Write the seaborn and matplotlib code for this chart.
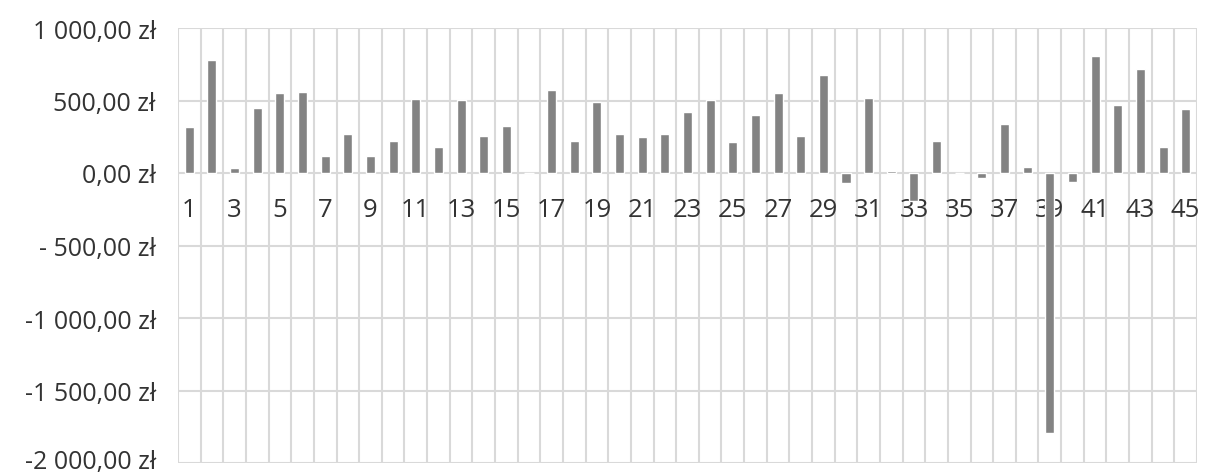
import numpy as np
import pandas as pd
import matplotlib
matplotlib.use('Agg')
import matplotlib.pyplot as plt
import matplotlib.transforms as mtransforms
import seaborn as sns

# dane
okresy = [str(i) for i in range(1, 46)]
wartosci = [315, 777, 34, 450, 554, 561, 120, 269, 120, 218,
            513, 182, 503, 258, 322, 0, 575, 221, 490, 269,
            251, 269, 423, 501, 214, 400, 554, 255, 676, -67,
            515, 16, -190, 223, 0, -32, 340, 39, -1793, -60,
            809, 467, 720, 179, 444]
y_ticks = [1000, 500, 0, -500, -1000, -1500, -2000]
y_labels = ['1 000,00 zł', '500,00 zł', '0,00 zł', '- 500,00 zł',
            '-1 000,00 zł', '-1 500,00 zł', '-2 000,00 zł']

df = pd.DataFrame({'okres': okresy, 'wartosc': wartosci})

sns.set_style('white')
plt.rcParams['font.family'] = ['Open Sans', 'DejaVu Sans']

fig = plt.figure(figsize=(12.09, 4.77), dpi=100)
ax = fig.add_axes([178 / 1209, 13 / 477, (1197 - 178) / 1209, (464 - 29) / 477])

sns.barplot(data=df, x='okres', y='wartosc', color='#838383', saturation=1,
            width=0.4, ax=ax, zorder=3)

ax.set_xlim(-0.5, len(okresy) - 0.5)
ax.set_ylim(-2000, 1000)

# siatka rysowana pod etykietami osi (etykiety nad siatką, słupki nad etykietami)
grid_col = '#d9d9d9'
for yv in y_ticks:
    ax.axhline(yv, color=grid_col, linewidth=1.5, zorder=0.1)
for xv in np.arange(-0.5, len(okresy)):
    ax.axvline(xv, color=grid_col, linewidth=1.5, zorder=0.1)
ax.set_axisbelow(True)

ax.set_yticks(y_ticks)
ax.set_yticklabels(y_labels)
ax.tick_params(axis='y', length=0, pad=16, labelsize=18, labelcolor='#333333')
# ostatnia etykieta lekko w górę, żeby nie wychodziła poza obrazek
lab = ax.get_yticklabels()[-1]
lab.set_transform(lab.get_transform() +
                  mtransforms.ScaledTranslation(0, 4 / 100, fig.dpi_scale_trans))

# etykiety osi x przy linii zera, co druga kategoria
pos = np.arange(0, len(okresy), 2)
ax.set_xticks(pos)
ax.set_xticklabels([okresy[i] for i in pos])
ax.tick_params(axis='x', length=0, pad=17, labelsize=18.5, labelcolor='#333333')
ax.spines['bottom'].set_position(('data', 0))
for s in ax.spines.values():
    s.set_visible(False)

ax.set_xlabel('')
ax.set_ylabel('')

fig.savefig('out.png', dpi=100)
